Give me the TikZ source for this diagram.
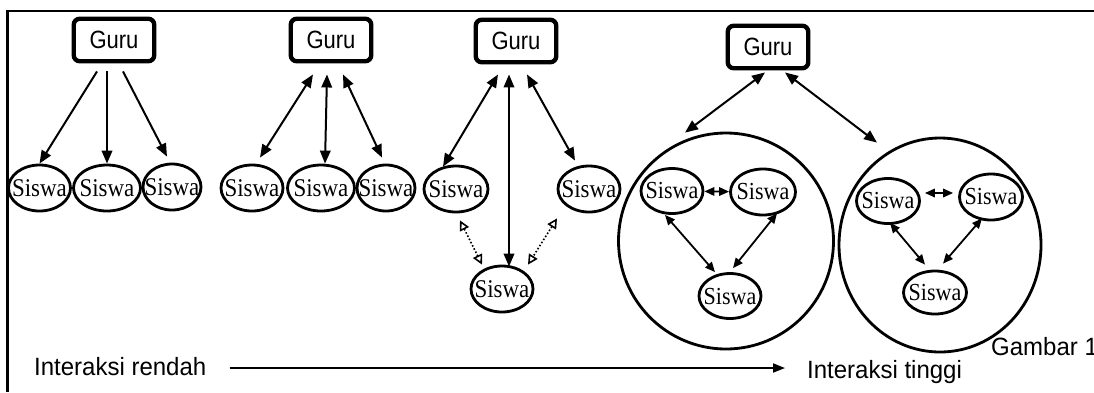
\documentclass[tikz,border=0pt]{standalone}
\usepackage{fontspec}
\setmainfont[FakeStretch=0.9]{Liberation Serif}
\newfontfamily\arialf[FakeStretch=0.88]{Liberation Sans}
\newfontfamily\arialg[FakeStretch=0.96]{Liberation Sans}
\usetikzlibrary{arrows.meta,shapes.geometric,calc}
\begin{document}
\begin{tikzpicture}[x=1pt,y=-1pt,
  guru/.style={draw, line width=4.4pt, rounded corners=6pt, minimum width=80.5pt, minimum height=42.5pt, inner sep=0pt, font=\arialf\fontsize{25}{27}\selectfont},
  siswa/.style={draw, ellipse, line width=2.8pt, minimum width=62pt, minimum height=46pt, inner sep=0pt, font=\fontsize{25.5}{27}\selectfont},
  siswab/.style={siswa, font=\fontsize{24.5}{26}\selectfont},
  big/.style={draw, ellipse, line width=2.8pt, inner sep=0pt},
  one/.style={line width=2pt, -{Triangle[length=13pt,width=10.5pt]}},
  two/.style={line width=2pt, {Triangle[length=13pt,width=10.5pt]}-{Triangle[length=13pt,width=10.5pt]}},
  small/.style={line width=1.8pt, {Triangle[length=10pt,width=8.5pt]}-{Triangle[length=10pt,width=8.5pt]}},
  dots/.style={line width=1.6pt, dotted, {Triangle[open,length=10pt,width=10pt]}-{Triangle[open,length=10pt,width=10pt]}},
  lbl/.style={font=\arialg\fontsize{25}{27}\selectfont, inner sep=0pt, anchor=base west}
]
\useasboundingbox (0,0) rectangle (1094,392);
% frame
\draw[line width=2.6pt] (1094,11) -- (7.5,11) -- (7.5,392);

% group 1
\node[guru] (g1) at (114,40) {Guru};
\node[siswa] (s1) at (39.5,188) {\makebox[0pt]{Siswa}};
\node[siswa, minimum width=67pt] (s2) at (107,188) {\makebox[0pt]{Siswa}};
\node[siswa, minimum width=58pt] (s3) at (172,187) {\makebox[0pt]{Siswa}};
\draw[one] ([shift={(-17,8)}]g1.south) -- (s1.north);
\draw[one] ([shift={(-7,8)}]g1.south) -- (s2.north);
\draw[one] ([shift={(9,8)}]g1.south) -- ([shift={(-5,-6)}]s3.north);

% group 2
\node[guru] (g2) at (331,40) {Guru};
\node[siswa] (s4) at (252,188) {\makebox[0pt]{Siswa}};
\node[siswa, minimum width=67pt] (s5) at (321,188) {\makebox[0pt]{Siswa}};
\node[siswa, minimum width=58pt] (s6) at (386,188) {\makebox[0pt]{Siswa}};
\draw[two] ([shift={(-18,11)}]g2.south) -- ([shift={(8,-6)}]s4.north);
\draw[two] ([shift={(-4,11)}]g2.south) -- ([shift={(4,0)}]s5.north);
\draw[two] ([shift={(12,11)}]g2.south) -- ([shift={(-4,-6)}]s6.north);

% group 3
\node[guru] (g3) at (516,41) {Guru};
\node[siswa, minimum width=64pt] (s7) at (456,189) {\makebox[0pt]{Siswa}};
\node[siswa] (s9) at (589,189) {\makebox[0pt]{Siswa}};
\node[siswa] (s8) at (502,289) {\makebox[0pt]{Siswa}};
\draw[two] ([shift={(-18,10)}]g3.south) -- ([shift={(-13,2)}]s7.north);
\draw[two] ([shift={(-7,10)}]g3.south) -- ([shift={(7,2)}]s8.north);
\draw[two] ([shift={(11,10)}]g3.south) -- ([shift={(-14,-4)}]s9.north);
\draw[dots] ([shift={(4,7)}]s7.south) -- ([shift={(-20,0)}]s8.north);
\draw[dots] ([shift={(-32,5)}]s9.south) -- ([shift={(26,0)}]s8.north);

% group 4
\node[guru] (g4) at (768,47) {Guru};
\node[big, minimum width=215pt, minimum height=216pt] (c1) at (726,241) {};
\node[big, minimum width=202pt, minimum height=214pt] (c2) at (940,245) {};
\draw[two] ([shift={(-3,2)}]g4.south) -- ([shift={(-41,1)}]c1.north);
\draw[two] ([shift={(17,2)}]g4.south) -- ([shift={(-63,6)}]c2.north);

\node[siswab, minimum height=45pt] (a1) at (672,191) {\makebox[0pt]{Siswa}};
\node[siswab, minimum width=65pt] (a2) at (763,192) {\makebox[0pt]{Siswa}};
\node[siswab, minimum height=45pt] (a3) at (730,296) {\makebox[0pt]{Siswa}};
\draw[small] (a1) -- (a2);
\draw[small] ([shift={(-7,0)}]a1.south) -- ([shift={(-15,0)}]a3.north);
\draw[small] ([shift={(14,-3)}]a2.south) -- ([shift={(3,-4)}]a3.north);

\node[siswab, minimum width=63pt, minimum height=45pt] (b1) at (888,201) {\makebox[0pt]{Siswa}};
\node[siswab, minimum width=63pt] (b2) at (991,197) {\makebox[0pt]{Siswa}};
\node[siswab, minimum width=63pt, minimum height=43pt] (b3) at (935,292.5) {\makebox[0pt]{Siswa}};
\draw[small] ([shift={(4,-8)}]b1.east) -- ([shift={(-5,-4)}]b2.west);
\draw[small] ([shift={(2,-2)}]b1.south) -- ([shift={(-10,-5)}]b3.north);
\draw[small] ([shift={(-9,-3)}]b2.south) -- ([shift={(8,-6)}]b3.north);

% labels
\node[lbl] (rendah) at (34,375) {Interaksi rendah};
\node[lbl] (tinggi) at (807,378) {Interaksi tinggi};
\node[lbl] (gambar) at (991,355) {Gambar 1};
\draw[line width=1.8pt, -{Triangle[length=12pt,width=9pt]}] ($(rendah.base east)+(23,-7)$) -- ($(tinggi.base west)+(-22,-10)$);
\end{tikzpicture}
\end{document}
